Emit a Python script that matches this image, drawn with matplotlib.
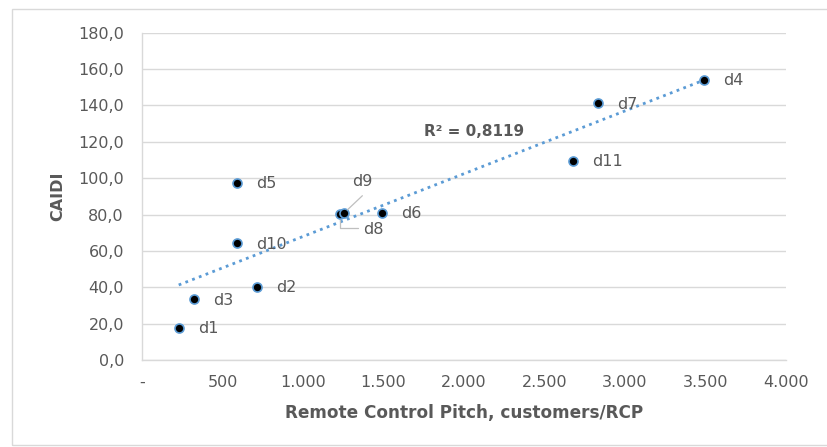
import numpy as np
import matplotlib
matplotlib.use("Agg")
import matplotlib.pyplot as plt
from matplotlib.patches import Rectangle
from matplotlib.ticker import FuncFormatter, MultipleLocator

# Remote control pitch (customers per RCP) vs CAIDI for each district
names = ["d1", "d2", "d3", "d4", "d5", "d6", "d7", "d8", "d9", "d10", "d11"]
pitch = [228, 713, 325, 3492, 593, 1491, 2832, 1227, 1257, 593, 2679]
caidi = [17.8, 40.3, 33.4, 154.0, 97.5, 81.0, 141.2, 80.1, 81.0, 64.2, 109.6]
r2_text = "R² = 0,8119"

TEXT = "#595959"
GRID = "#D9D9D9"
BLUE = "#5B9BD5"

plt.rcParams["font.family"] = ["DejaVu Sans"]

fig = plt.figure(figsize=(8.28, 4.47), dpi=100)
W, H = 828, 447

# chart frame
fig.patches.append(Rectangle((12 / W, 0.004), 1.2, (H - 9) / H - 0.004,
                             transform=fig.transFigure, fill=False,
                             edgecolor=GRID, lw=1.0))

ax = fig.add_axes([142 / W, (H - 360) / H, 644 / W, 327.3 / H])

x = np.array(pitch, dtype=float)
y = np.array(caidi, dtype=float)

# linear trendline over the data range
slope, intercept = np.polyfit(x, y, 1)
xt = np.array([x.min(), x.max()])
ax.plot(xt, slope * xt + intercept, linestyle=(0, (1, 1.6)), color=BLUE,
        lw=2.0, zorder=2)

ax.scatter(x, y, s=42, color="black", edgecolor=BLUE, linewidth=1.2, zorder=3)

# data labels
special = {"d8", "d9"}
for n, xi, yi in zip(names, x, y):
    if n in special:
        continue
    ax.annotate(n, (xi, yi), xytext=(19, -1), textcoords="offset pixels",
                ha="left", va="center", fontsize=11.5, color=TEXT)

i9 = names.index("d9")
ax.annotate("d9", (x[i9], y[i9]), xytext=(8, 31), textcoords="offset pixels",
            ha="left", va="center", fontsize=11.5, color=TEXT)
ax.annotate("", (x[i9], y[i9]), xytext=(18, 17), textcoords="offset pixels",
            arrowprops=dict(arrowstyle="-", color="#BFBFBF", lw=0.9,
                            shrinkA=0, shrinkB=3))
i8 = names.index("d8")
ax.annotate("d8", (x[i8], y[i8]), xytext=(24, -15), textcoords="offset pixels",
            ha="left", va="center", fontsize=11.5, color=TEXT)
ax.annotate("", (x[i8], y[i8]), xytext=(18, -14), textcoords="offset pixels",
            arrowprops=dict(arrowstyle="-", color="#BFBFBF", lw=0.9,
                            shrinkA=0, shrinkB=4,
                            connectionstyle="angle,angleA=180,angleB=90,rad=0"))

ax.text(424 / W, (H - 131) / H, r2_text, transform=fig.transFigure,
        ha="left", va="center", fontsize=11, fontweight="bold", color=TEXT)

ax.set_xlim(0, 4000)
ax.set_ylim(0, 180)
ax.xaxis.set_major_locator(MultipleLocator(500))
ax.yaxis.set_major_locator(MultipleLocator(20))


def fmt_x(v, _):
    if abs(v) < 1e-9:
        return "-"
    return f"{int(round(v)):,}".replace(",", ".")


def fmt_y(v, _):
    return f"{v:.1f}".replace(".", ",")


ax.xaxis.set_major_formatter(FuncFormatter(fmt_x))
ax.yaxis.set_major_formatter(FuncFormatter(fmt_y))

ax.grid(axis="y", color=GRID, lw=1.0)
ax.set_axisbelow(True)
for s in ["top", "right"]:
    ax.spines[s].set_visible(False)
for s in ["left", "bottom"]:
    ax.spines[s].set_color(GRID)
    ax.spines[s].set_linewidth(1.0)
ax.tick_params(length=0, labelsize=11.5, labelcolor=TEXT)
ax.tick_params(axis="y", pad=13)
ax.tick_params(axis="x", pad=11)

ax.set_xlabel("Remote Control Pitch, customers/RCP", fontsize=12.2,
              fontweight="bold", color=TEXT, labelpad=10)
ax.set_ylabel("CAIDI", fontsize=11.5, fontweight="bold", color=TEXT,
              labelpad=9)

fig.savefig("out.png", dpi=100)
